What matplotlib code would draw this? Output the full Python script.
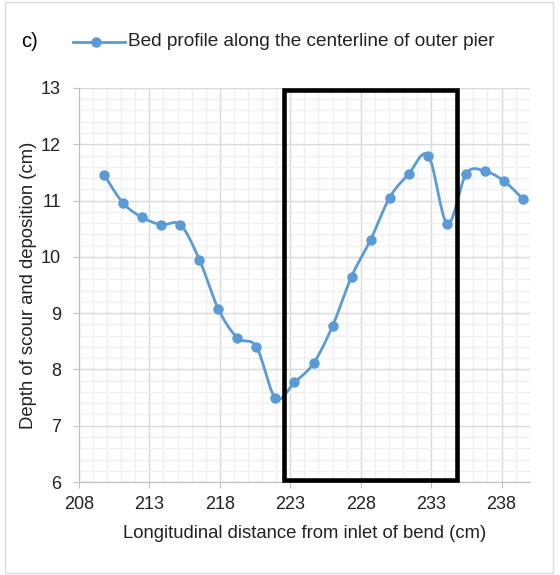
"""Bed profile along the centerline of the outer pier (panel c)."""
import matplotlib
matplotlib.use("Agg")
import matplotlib.pyplot as plt
import numpy as np
from matplotlib.patches import Rectangle
from matplotlib.ticker import MultipleLocator

plt.rcParams["font.family"] = ["Liberation Sans", "DejaVu Sans"]

# data
distance_cm = [209.8, 211.15, 212.5, 213.85, 215.2, 216.55, 217.9, 219.25,
               220.6, 221.95, 223.3, 224.65, 226.0, 227.35, 228.7, 230.05,
               231.4, 232.8, 234.15, 235.5, 236.85, 238.2, 239.55]
depth_cm = [11.45, 10.95, 10.70, 10.57, 10.57, 9.95, 9.07, 8.56,
            8.40, 7.49, 7.77, 8.11, 8.77, 9.65, 10.30, 11.05,
            11.47, 11.80, 10.59, 11.48, 11.52, 11.34, 11.02]
box_x = (222.55, 234.8)   # highlighted zone
legend_label = "Bed profile along the centerline of outer pier"

BLUE = "#5B9BD5"
TXT = "#222222"


def smooth(x, y, steps=20):
    """Excel-like smoothed line: Bezier segments with Catmull-Rom handles."""
    x = np.asarray(x, float)
    y = np.asarray(y, float)
    px = np.concatenate([[x[0]], x, [x[-1]]])
    py = np.concatenate([[y[0]], y, [y[-1]]])
    t = np.linspace(0, 1, steps)[:, None]
    xs, ys = [], []
    for i in range(1, len(px) - 2):
        p0 = np.array([px[i], py[i]])
        p3 = np.array([px[i + 1], py[i + 1]])
        c1 = p0 + (np.array([px[i + 1], py[i + 1]]) - np.array([px[i - 1], py[i - 1]])) / 6
        c2 = p3 - (np.array([px[i + 2], py[i + 2]]) - np.array([px[i], py[i]])) / 6
        b = ((1 - t) ** 3) * p0 + 3 * ((1 - t) ** 2) * t * c1 + 3 * (1 - t) * t ** 2 * c2 + t ** 3 * p3
        xs.append(b[:, 0])
        ys.append(b[:, 1])
    return np.concatenate(xs), np.concatenate(ys)


fig = plt.figure(figsize=(5.6, 5.75), dpi=100)
fig.patches.append(Rectangle((0.009, 0.004), 0.978, 0.992, transform=fig.transFigure,
                             fill=False, edgecolor="#D9D9D9", linewidth=1))
ax = fig.add_axes([0.141, 0.1617, 0.805, 0.6853])

sx, sy = smooth(distance_cm, depth_cm)
ax.plot(sx, sy, color=BLUE, linewidth=2, zorder=3)
ax.plot(distance_cm, depth_cm, "o", color=BLUE, markersize=6.5, zorder=4)

ax.add_patch(Rectangle((box_x[0], 6.04), box_x[1] - box_x[0], 6.92,
                       fill=False, edgecolor="black", linewidth=3.3, zorder=5,
                       clip_on=False))

ax.set_xlim(208, 240)
ax.set_ylim(6, 13)
ax.xaxis.set_minor_locator(MultipleLocator(1))
ax.yaxis.set_major_locator(MultipleLocator(1))
ax.yaxis.set_minor_locator(MultipleLocator(0.2))
ax.set_xticks(np.arange(208, 241, 5))
ax.grid(which="major", color="#D9D9D9", linewidth=1.0)
ax.grid(which="minor", color="#EFEFEF", linewidth=0.9)
ax.set_axisbelow(True)
for s in ("top", "right"):
    ax.spines[s].set_visible(False)
for s in ("left", "bottom"):
    ax.spines[s].set_color("#BFBFBF")
ax.tick_params(which="major", length=4, color="#BFBFBF", labelsize=13,
               labelcolor=TXT)
ax.tick_params(axis="x", pad=6)
ax.tick_params(axis="y", pad=9)
ax.tick_params(which="minor", length=0)

ax.set_xlabel("Longitudinal distance from inlet of bend (cm)", fontsize=13.3,
              color=TXT, labelpad=9)
ax.set_ylabel("Depth of scour and deposition (cm)", fontsize=13.3,
              color=TXT, labelpad=3)

fig.text(0.038, 0.927, "c)", fontsize=14.5, va="center", ha="left")
fig.add_artist(plt.Line2D([0.130, 0.223], [0.927, 0.927], color=BLUE, linewidth=2,
                          transform=fig.transFigure))
fig.add_artist(plt.Line2D([0.1715], [0.927], marker="o", color=BLUE, markersize=6.5,
                          transform=fig.transFigure))
fig.text(0.228, 0.927, legend_label, fontsize=13.7, va="center", ha="left",
         color=TXT)

fig.savefig("out.png", dpi=100)
